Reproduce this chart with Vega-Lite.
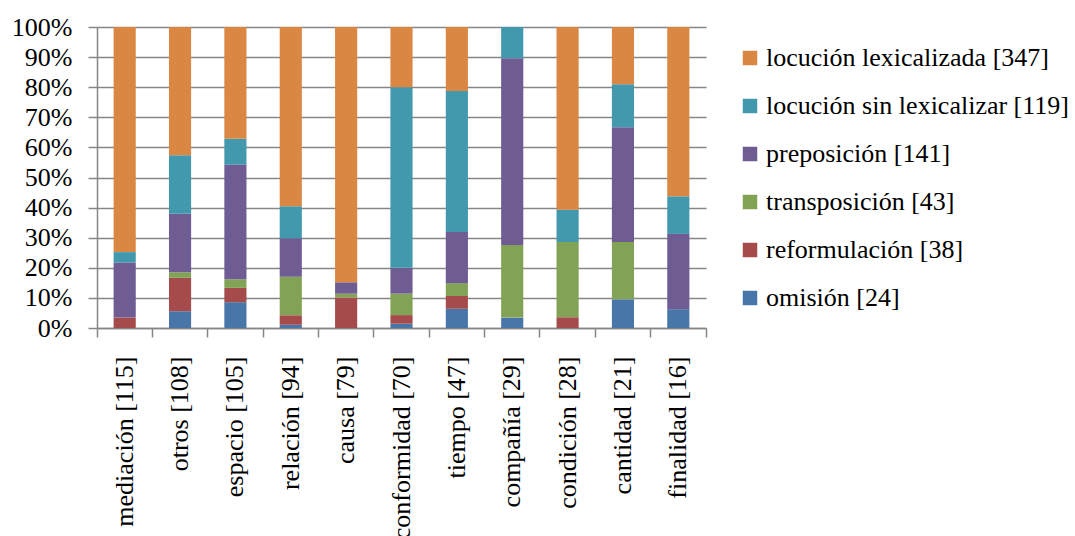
{
  "$schema": "https://vega.github.io/schema/vega-lite/v6.json",
  "width": 609,
  "height": 301,
  "autosize": "none",
  "padding": {"left": 97, "top": 27, "right": 369, "bottom": 208},
  "background": "white",
  "config": {"view": {"stroke": null}, "font": "Liberation Serif"},
  "data": {"values": [
    {"cat": "mediación [115]", "serie": "reformulación [38]", "o": 2, "n": 4},
    {"cat": "mediación [115]", "serie": "preposición [141]", "o": 4, "n": 21},
    {"cat": "mediación [115]", "serie": "locución sin lexicalizar [119]", "o": 5, "n": 4},
    {"cat": "mediación [115]", "serie": "locución lexicalizada [347]", "o": 6, "n": 86},
    {"cat": "otros [108]", "serie": "omisión [24]", "o": 1, "n": 6},
    {"cat": "otros [108]", "serie": "reformulación [38]", "o": 2, "n": 12},
    {"cat": "otros [108]", "serie": "transposición [43]", "o": 3, "n": 2},
    {"cat": "otros [108]", "serie": "preposición [141]", "o": 4, "n": 21},
    {"cat": "otros [108]", "serie": "locución sin lexicalizar [119]", "o": 5, "n": 21},
    {"cat": "otros [108]", "serie": "locución lexicalizada [347]", "o": 6, "n": 46},
    {"cat": "espacio [105]", "serie": "omisión [24]", "o": 1, "n": 9},
    {"cat": "espacio [105]", "serie": "reformulación [38]", "o": 2, "n": 5},
    {"cat": "espacio [105]", "serie": "transposición [43]", "o": 3, "n": 3},
    {"cat": "espacio [105]", "serie": "preposición [141]", "o": 4, "n": 40},
    {"cat": "espacio [105]", "serie": "locución sin lexicalizar [119]", "o": 5, "n": 9},
    {"cat": "espacio [105]", "serie": "locución lexicalizada [347]", "o": 6, "n": 39},
    {"cat": "relación [94]", "serie": "omisión [24]", "o": 1, "n": 1},
    {"cat": "relación [94]", "serie": "reformulación [38]", "o": 2, "n": 3},
    {"cat": "relación [94]", "serie": "transposición [43]", "o": 3, "n": 12},
    {"cat": "relación [94]", "serie": "preposición [141]", "o": 4, "n": 12},
    {"cat": "relación [94]", "serie": "locución sin lexicalizar [119]", "o": 5, "n": 10},
    {"cat": "relación [94]", "serie": "locución lexicalizada [347]", "o": 6, "n": 56},
    {"cat": "causa [79]", "serie": "reformulación [38]", "o": 2, "n": 8},
    {"cat": "causa [79]", "serie": "transposición [43]", "o": 3, "n": 1},
    {"cat": "causa [79]", "serie": "preposición [141]", "o": 4, "n": 3},
    {"cat": "causa [79]", "serie": "locución lexicalizada [347]", "o": 6, "n": 67},
    {"cat": "conformidad [70]", "serie": "omisión [24]", "o": 1, "n": 1},
    {"cat": "conformidad [70]", "serie": "reformulación [38]", "o": 2, "n": 2},
    {"cat": "conformidad [70]", "serie": "transposición [43]", "o": 3, "n": 5},
    {"cat": "conformidad [70]", "serie": "preposición [141]", "o": 4, "n": 6},
    {"cat": "conformidad [70]", "serie": "locución sin lexicalizar [119]", "o": 5, "n": 42},
    {"cat": "conformidad [70]", "serie": "locución lexicalizada [347]", "o": 6, "n": 14},
    {"cat": "tiempo [47]", "serie": "omisión [24]", "o": 1, "n": 3},
    {"cat": "tiempo [47]", "serie": "reformulación [38]", "o": 2, "n": 2},
    {"cat": "tiempo [47]", "serie": "transposición [43]", "o": 3, "n": 2},
    {"cat": "tiempo [47]", "serie": "preposición [141]", "o": 4, "n": 8},
    {"cat": "tiempo [47]", "serie": "locución sin lexicalizar [119]", "o": 5, "n": 22},
    {"cat": "tiempo [47]", "serie": "locución lexicalizada [347]", "o": 6, "n": 10},
    {"cat": "compañía [29]", "serie": "omisión [24]", "o": 1, "n": 1},
    {"cat": "compañía [29]", "serie": "transposición [43]", "o": 3, "n": 7},
    {"cat": "compañía [29]", "serie": "preposición [141]", "o": 4, "n": 18},
    {"cat": "compañía [29]", "serie": "locución sin lexicalizar [119]", "o": 5, "n": 3},
    {"cat": "condición [28]", "serie": "reformulación [38]", "o": 2, "n": 1},
    {"cat": "condición [28]", "serie": "transposición [43]", "o": 3, "n": 7},
    {"cat": "condición [28]", "serie": "locución sin lexicalizar [119]", "o": 5, "n": 3},
    {"cat": "condición [28]", "serie": "locución lexicalizada [347]", "o": 6, "n": 17},
    {"cat": "cantidad [21]", "serie": "omisión [24]", "o": 1, "n": 2},
    {"cat": "cantidad [21]", "serie": "transposición [43]", "o": 3, "n": 4},
    {"cat": "cantidad [21]", "serie": "preposición [141]", "o": 4, "n": 8},
    {"cat": "cantidad [21]", "serie": "locución sin lexicalizar [119]", "o": 5, "n": 3},
    {"cat": "cantidad [21]", "serie": "locución lexicalizada [347]", "o": 6, "n": 4},
    {"cat": "finalidad [16]", "serie": "omisión [24]", "o": 1, "n": 1},
    {"cat": "finalidad [16]", "serie": "preposición [141]", "o": 4, "n": 4},
    {"cat": "finalidad [16]", "serie": "locución sin lexicalizar [119]", "o": 5, "n": 2},
    {"cat": "finalidad [16]", "serie": "locución lexicalizada [347]", "o": 6, "n": 9}
  ]},
  "mark": {"type": "bar", "width": {"band": 0.4}},
  "encoding": {
    "x": {
      "field": "cat", "type": "nominal",
      "sort": ["mediación [115]", "otros [108]", "espacio [105]", "relación [94]", "causa [79]", "conformidad [70]", "tiempo [47]", "compañía [29]", "condición [28]", "cantidad [21]", "finalidad [16]"],
      "scale": {"paddingInner": 0, "paddingOuter": 0},
      "axis": {
        "title": null, "labelAngle": -90, "labelFontSize": 26, "labelColor": "black",
        "labelFont": "Liberation Serif", "labelPadding": 19,
        "bandPosition": 1, "tickExtra": true,
        "domainColor": "#868686", "domainWidth": 1.5,
        "tickColor": "#868686", "tickWidth": 1.5, "tickSize": 9, "labelLimit": 400
      }
    },
    "y": {
      "field": "n", "type": "quantitative", "stack": "normalize",
      "scale": {"domain": [0, 1]},
      "axis": {
        "title": null, "format": ".0%", "values": [0, 0.1, 0.2, 0.3, 0.4, 0.5, 0.6, 0.7, 0.8, 0.9, 1],
        "labelFontSize": 26, "labelColor": "black", "labelFont": "Liberation Serif", "labelPadding": 16,
        "gridColor": "#868686", "gridWidth": 1.5,
        "domainColor": "#868686", "domainWidth": 1.5,
        "tickColor": "#868686", "tickWidth": 1.5, "tickSize": 9
      }
    },
    "color": {
      "field": "serie", "type": "nominal",
      "scale": {
        "domain": ["locución lexicalizada [347]", "locución sin lexicalizar [119]", "preposición [141]", "transposición [43]", "reformulación [38]", "omisión [24]"],
        "range": ["#D98743", "#4299AE", "#6E5C93", "#82A356", "#A54B4B", "#4876A8"]
      },
      "legend": {
        "title": null, "orient": "none", "legendX": 640, "legendY": 18, "padding": 0,
        "symbolType": "square", "symbolSize": 210, "symbolStrokeWidth": 0,
        "labelFontSize": 26, "labelFont": "Liberation Serif", "labelColor": "black",
        "labelOffset": 3, "rowPadding": 22, "labelLimit": 400
      }
    },
    "order": {"field": "o", "type": "quantitative"}
  }
}
